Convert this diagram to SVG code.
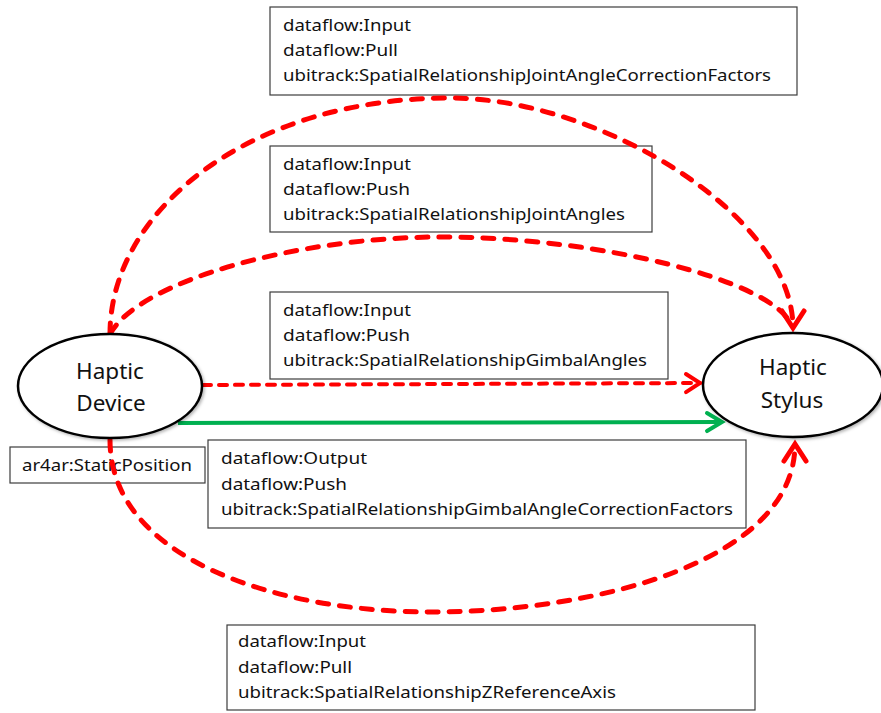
<svg xmlns="http://www.w3.org/2000/svg" width="881" height="713" viewBox="0 0 881 713">
  <style>
    .box { fill: #ffffff; stroke: #3c3c3c; stroke-width: 1.2; }
    .lbl { font-family: "Noto Sans", "Open Sans", "Liberation Sans", sans-serif; font-size: 17px; fill: #111111; }
    .node { fill: #ffffff; stroke: #000000; stroke-width: 2.5; }
    .ntxt { font-family: "Noto Sans", "Open Sans", "Liberation Sans", sans-serif; font-size: 22.5px; fill: #111111; text-anchor: middle; }
    .arc { fill: none; stroke: #ff0000; stroke-width: 5; stroke-dasharray: 11 11; stroke-linecap: round; }
    .dash { fill: none; stroke: #ff0000; stroke-width: 4; stroke-dasharray: 8 8; stroke-linecap: round; }
    .solid { fill: none; stroke: #00b050; stroke-width: 4; }
  </style>
  <defs>
    <filter id="shadow" x="-10%" y="-10%" width="125%" height="130%">
      <feDropShadow dx="1.5" dy="1.5" stdDeviation="1.5" flood-color="#000000" flood-opacity="0.3"/>
    </filter>
    <marker id="headBig" markerUnits="userSpaceOnUse" markerWidth="30" markerHeight="30" viewBox="-20 -15 24 30" refX="0" refY="0" orient="auto">
      <path d="M-17,-11 L0,0 L-17,11" fill="none" stroke="#ff0000" stroke-width="5" stroke-linejoin="miter" stroke-linecap="round"/>
    </marker>
    <marker id="headRed" markerUnits="userSpaceOnUse" markerWidth="26" markerHeight="26" viewBox="-18 -13 22 26" refX="0" refY="0" orient="auto">
      <path d="M-14,-9 L0,0 L-14,9" fill="none" stroke="#ff0000" stroke-width="4" stroke-linecap="round"/>
    </marker>
    <marker id="headGreen" markerUnits="userSpaceOnUse" markerWidth="26" markerHeight="26" viewBox="-18 -13 22 26" refX="0" refY="0" orient="auto">
      <path d="M-15,-9 L0,0 L-15,9" fill="none" stroke="#00b050" stroke-width="4" stroke-linecap="round"/>
    </marker>
  </defs>

  <rect width="881" height="713" fill="#ffffff"/>

  <!-- property boxes -->
  <g id="box-correction-factors">
    <rect class="box" x="270" y="7" width="527" height="88"/>
    <text class="lbl" x="283" y="31" textLength="128" lengthAdjust="spacingAndGlyphs">dataflow:Input</text>
    <text class="lbl" x="283" y="56" textLength="115" lengthAdjust="spacingAndGlyphs">dataflow:Pull</text>
    <text class="lbl" x="283" y="81" textLength="488" lengthAdjust="spacingAndGlyphs">ubitrack:SpatialRelationshipJointAngleCorrectionFactors</text>
  </g>
  <g id="box-joint-angles">
    <rect class="box" x="270" y="146" width="382" height="86"/>
    <text class="lbl" x="283" y="170" textLength="128" lengthAdjust="spacingAndGlyphs">dataflow:Input</text>
    <text class="lbl" x="283" y="195" textLength="127" lengthAdjust="spacingAndGlyphs">dataflow:Push</text>
    <text class="lbl" x="283" y="220" textLength="342" lengthAdjust="spacingAndGlyphs">ubitrack:SpatialRelationshipJointAngles</text>
  </g>
  <g id="box-gimbal-angles">
    <rect class="box" x="270" y="292" width="398" height="87"/>
    <text class="lbl" x="283" y="316" textLength="128" lengthAdjust="spacingAndGlyphs">dataflow:Input</text>
    <text class="lbl" x="283" y="341" textLength="127" lengthAdjust="spacingAndGlyphs">dataflow:Push</text>
    <text class="lbl" x="283" y="366" textLength="364" lengthAdjust="spacingAndGlyphs">ubitrack:SpatialRelationshipGimbalAngles</text>
  </g>
  <g id="box-gimbal-correction">
    <rect class="box" x="208" y="440" width="538" height="88"/>
    <text class="lbl" x="221" y="464" textLength="146" lengthAdjust="spacingAndGlyphs">dataflow:Output</text>
    <text class="lbl" x="221" y="490" textLength="126" lengthAdjust="spacingAndGlyphs">dataflow:Push</text>
    <text class="lbl" x="221" y="515" textLength="512" lengthAdjust="spacingAndGlyphs">ubitrack:SpatialRelationshipGimbalAngleCorrectionFactors</text>
  </g>
  <g id="box-z-reference">
    <rect class="box" x="227" y="625" width="528" height="85"/>
    <text class="lbl" x="238" y="647" textLength="128" lengthAdjust="spacingAndGlyphs">dataflow:Input</text>
    <text class="lbl" x="238" y="673" textLength="114" lengthAdjust="spacingAndGlyphs">dataflow:Pull</text>
    <text class="lbl" x="238" y="698" textLength="378" lengthAdjust="spacingAndGlyphs">ubitrack:SpatialRelationshipZReferenceAxis</text>
  </g>
  <g id="box-static-position">
    <rect class="box" x="10" y="447" width="195" height="36"/>
    <text class="lbl" x="22" y="471" textLength="170" lengthAdjust="spacingAndGlyphs">ar4ar:StaticPosition</text>
  </g>

  <!-- connectors -->
  <g id="connectors">
    <path class="arc" d="M110,334 C110,210 250,98 450,98 C600,98 793,215 793,328" marker-end="url(#headBig)"/>
    <path class="arc" d="M110,334 C140,280 300,237 440,237 C600,237 770,280 791,324"/>
    <path class="arc" d="M110,440 C110,560 280,612 430,612 C600,612 795,560 795,444" marker-end="url(#headBig)"/>
    <path class="dash" d="M203,385 L700,383" marker-end="url(#headRed)"/>
    <path class="solid" d="M178,423 L722,422" marker-end="url(#headGreen)"/>
  </g>

  <!-- nodes -->
  <g id="haptic-device">
    <ellipse class="node" cx="110" cy="386" rx="92" ry="52" filter="url(#shadow)"/>
    <text class="ntxt" x="110" y="379">Haptic</text>
    <text class="ntxt" x="111" y="411">Device</text>
  </g>
  <g id="haptic-stylus">
    <ellipse class="node" cx="793" cy="385" rx="90" ry="52" filter="url(#shadow)"/>
    <text class="ntxt" x="793" y="375">Haptic</text>
    <text class="ntxt" x="792" y="408">Stylus</text>
  </g>
</svg>
